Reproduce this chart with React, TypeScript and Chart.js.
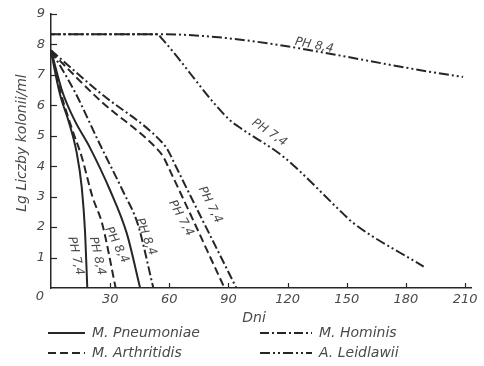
import React, { useEffect, useRef } from "react";
import { Chart, registerables } from "chart.js";

Chart.register(...registerables);

// Survival curves: log10 of colony count per ml against days of storage.
const pneumoniaePH74Days = [0, 2.5, 5, 8.8, 13, 15.6, 17.3, 18.4];
const pneumoniaePH74Log = [7.8, 6.95, 6.25, 5.5, 4.45, 3.3, 1.8, 0];

const pneumoniaePH84Days = [0, 6, 12, 19.8, 30, 38.4, 45.2];
const pneumoniaePH84Log = [7.8, 6.4, 5.5, 4.6, 3.2, 1.8, 0];

const arthritidisPH84Days = [0, 5, 10.5, 15.6, 21, 26, 32.8];
const arthritidisPH84Log = [7.8, 6.4, 5.25, 4.3, 3.0, 2.1, 0];

const arthritidisPH74Days = [0, 25, 54, 57, 60, 88];
const arthritidisPH74Log = [7.75, 6.15, 4.55, 4.3, 3.9, 0];

const hominisPH84Days = [0, 12, 24.9, 36.7, 44, 51.9];
const hominisPH84Log = [7.8, 6.45, 4.7, 3.15, 2.1, 0];

const hominisPH74Days = [0, 25, 56, 59.5, 62.5, 94];
const hominisPH74Log = [7.8, 6.4, 4.8, 4.5, 4.1, 0];

const leidlawiiPH84Days = [0, 54, 209];
const leidlawiiPH84Log = [8.33, 8.33, 6.93];

const leidlawiiPH74Days = [0, 54, 56, 90, 95, 118, 148, 153, 189];
const leidlawiiPH74Log = [8.33, 8.33, 8.2, 5.55, 5.3, 4.3, 2.45, 2.15, 0.7];

const xTickValues = [0, 30, 60, 90, 120, 150, 180, 210];
const yTickValues = [1, 2, 3, 4, 5, 6, 7, 8, 9];

const speciesNames = ["M. Pneumoniae", "M. Hominis", "M. Arthritidis", "A. Leidlawii"];

const curveLabelText = ["PH 7,4", "PH 8,4", "PH 8,4", "PH 8,4", "PH 7,4", "PH 7,4", "PH 8,4", "PH 7,4"];
const curveLabelDay = [12.4, 23.4, 33.3, 48.1, 65.9, 80.7, 133.5, 110.7];
const curveLabelLog = [1.05, 1.05, 1.41, 1.68, 2.29, 2.73, 7.96, 5.1];
const curveLabelAngle = [78, 77, 63, 69, 61, 63, 11, 34];

const INK = "#262626";
const TEXT = "#4a4a4a";
const FONT = "'DejaVu Sans', sans-serif";

const SOLID: number[] = [];
const DASHED = [8, 4];
const DASH_DOT = [9, 3, 2, 3];
const DASH_DOT_DOT = [10, 3, 2, 3, 2, 3];

const zip = (xs: number[], ys: number[]) => xs.map((x, i) => ({ x, y: ys[i] }));

const line = (label: string, days: number[], logs: number[], dash: number[], dashOffset = 0) => ({
  label,
  data: zip(days, logs),
  borderColor: INK,
  borderWidth: 2,
  borderDash: dash,
  borderDashOffset: dashOffset,
  pointRadius: 0,
  fill: false,
  cubicInterpolationMode: "monotone" as const,
});

const decorations = {
  id: "decorations",
  afterDraw(chart: any) {
    const { ctx, chartArea } = chart;
    const xs = chart.scales.x;
    const ys = chart.scales.y;
    ctx.save();

    // inward tick marks
    ctx.strokeStyle = INK;
    ctx.lineWidth = 1.2;
    ctx.setLineDash([]);
    yTickValues.forEach((v) => {
      const py = Math.round(ys.getPixelForValue(v)) + 0.5;
      ctx.beginPath();
      ctx.moveTo(chartArea.left, py);
      ctx.lineTo(chartArea.left + 6, py);
      ctx.stroke();
    });
    xTickValues.slice(1).forEach((v) => {
      const px = Math.round(xs.getPixelForValue(v)) + 0.5;
      ctx.beginPath();
      ctx.moveTo(px, chartArea.bottom);
      ctx.lineTo(px, chartArea.bottom - 5);
      ctx.stroke();
    });

    ctx.fillStyle = TEXT;
    ctx.textAlign = "center";
    ctx.textBaseline = "middle";

    // shared origin label
    ctx.font = `italic 13px ${FONT}`;
    ctx.fillText("0", chartArea.left - 11, chartArea.bottom + 9);

    // axis titles
    ctx.font = `italic 14px ${FONT}`;
    ctx.fillText("Dni", 254, 318);
    ctx.save();
    ctx.translate(22, 143);
    ctx.rotate(-Math.PI / 2);
    ctx.fillText("Lg Liczby kolonii/ml", 0, 0);
    ctx.restore();

    // pH labels along the curves
    ctx.font = `italic 12px ${FONT}`;
    curveLabelText.forEach((t, i) => {
      const px = xs.getPixelForValue(curveLabelDay[i]);
      const py = ys.getPixelForValue(curveLabelLog[i]);
      ctx.save();
      ctx.translate(px, py);
      ctx.rotate((curveLabelAngle[i] * Math.PI) / 180);
      ctx.fillText(t, 0, 0);
      ctx.restore();
    });

    // legend
    const dashes = [SOLID, DASH_DOT, DASHED, DASH_DOT_DOT];
    const sampleX = [48, 260, 48, 260];
    const sampleW = [37, 52, 37, 52];
    const rowY = [333, 333, 353, 353];
    ctx.font = `italic 14px ${FONT}`;
    ctx.textAlign = "left";
    speciesNames.forEach((name, i) => {
      ctx.strokeStyle = INK;
      ctx.lineWidth = 2;
      ctx.setLineDash(dashes[i]);
      ctx.beginPath();
      ctx.moveTo(sampleX[i], rowY[i]);
      ctx.lineTo(sampleX[i] + sampleW[i], rowY[i]);
      ctx.stroke();
      ctx.setLineDash([]);
      ctx.fillText(name, sampleX[i] + sampleW[i] + 7, rowY[i]);
    });

    ctx.restore();
  },
};

export default function App() {
  const canvasRef = useRef<HTMLCanvasElement | null>(null);

  useEffect(() => {
    if (!canvasRef.current) return;
    const chart = new Chart(canvasRef.current, {
      type: "line",
      data: {
        datasets: [
          line("M. Pneumoniae pH 7,4", pneumoniaePH74Days, pneumoniaePH74Log, SOLID),
          line("M. Pneumoniae pH 8,4", pneumoniaePH84Days, pneumoniaePH84Log, SOLID),
          line("M. Arthritidis pH 8,4", arthritidisPH84Days, arthritidisPH84Log, DASHED),
          line("M. Arthritidis pH 7,4", arthritidisPH74Days, arthritidisPH74Log, DASHED),
          line("M. Hominis pH 8,4", hominisPH84Days, hominisPH84Log, DASH_DOT),
          line("M. Hominis pH 7,4", hominisPH74Days, hominisPH74Log, DASH_DOT),
          line("A. Leidlawii pH 8,4", leidlawiiPH84Days, leidlawiiPH84Log, DASH_DOT_DOT),
          line("A. Leidlawii pH 7,4", leidlawiiPH74Days, leidlawiiPH74Log, DASH_DOT_DOT, 6),
        ],
      },
      options: {
        responsive: false,
        animation: false,
        devicePixelRatio: 1,
        layout: { padding: { left: 0, top: 13, right: 13, bottom: 0 } },
        plugins: {
          legend: { display: false },
          tooltip: { enabled: false },
        },
        scales: {
          x: {
            type: "linear",
            min: 0,
            max: 213,
            grid: { display: false, drawTicks: false },
            border: { display: true, color: INK, width: 1.5 },
            afterBuildTicks: (scale: any) => {
              scale.ticks = xTickValues.map((value) => ({ value }));
            },
            afterFit: (scale: any) => {
              scale.height = 78;
            },
            ticks: {
              padding: 4,
              color: TEXT,
              font: { family: FONT, size: 13, style: "italic" },
              maxRotation: 0,
              callback: (v: any) => (v === 0 ? "" : String(v)),
            },
          },
          y: {
            type: "linear",
            min: 0,
            max: 9,
            grid: { display: false, drawTicks: false },
            border: { display: true, color: INK, width: 1.5 },
            afterBuildTicks: (scale: any) => {
              scale.ticks = [0, ...yTickValues].map((value) => ({ value }));
            },
            afterFit: (scale: any) => {
              scale.width = 51;
            },
            ticks: {
              padding: 6,
              color: TEXT,
              font: { family: FONT, size: 13, style: "italic" },
              callback: (v: any) => (v === 0 ? "" : String(v)),
            },
          },
        },
      },
      plugins: [decorations],
    });
    return () => chart.destroy();
  }, []);

  return (
    <div style={{ position: "fixed", left: 0, top: 0, width: 484, height: 366, background: "#fff" }}>
      <canvas ref={canvasRef} width={484} height={366} />
    </div>
  );
}
